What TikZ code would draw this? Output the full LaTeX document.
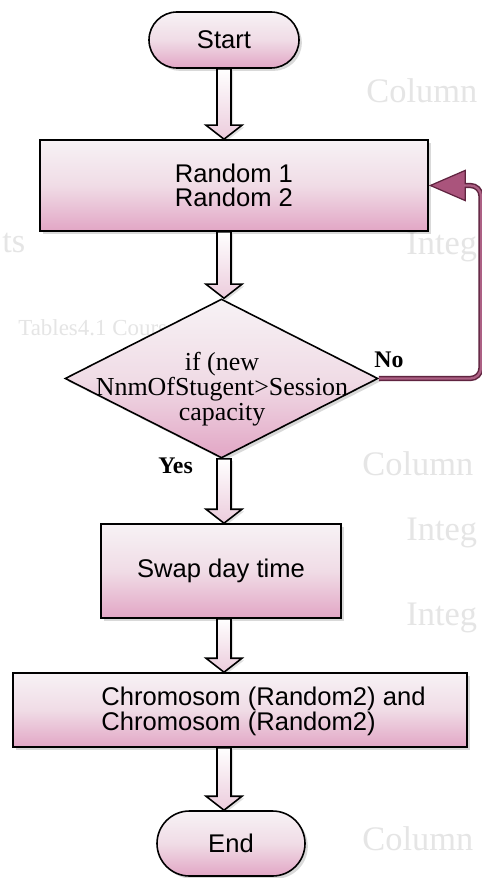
\documentclass[tikz,border=0pt]{standalone}
\usepackage{fontspec}
\setmainfont{Liberation Serif}
\newfontfamily\boxfont{Liberation Sans}
\usetikzlibrary{shapes.geometric,shapes.misc,arrows.meta,shadows,calc}
\definecolor{pinktop}{RGB}{247,242,245}
\definecolor{pinkmid}{RGB}{240,220,230}
\definecolor{pinkbot}{RGB}{226,166,197}
\definecolor{plumdark}{RGB}{96,36,64}
\definecolor{plummid}{RGB}{172,96,132}
\definecolor{plumfill}{RGB}{170,84,124}
\definecolor{ghost}{RGB}{229,229,229}
\def\pxu{0.5669pt}
\tikzset{
  flowbox/.style={draw=black, line width=0.9pt, top color=pinktop, bottom color=pinkbot, middle color=pinkmid,
    drop shadow={shadow xshift=1.6pt, shadow yshift=-1.6pt, fill=black, opacity=0.15}, inner sep=0pt},
  procbox/.style={flowbox, rectangle},
  termbox/.style={flowbox, rounded rectangle},
  decbox/.style={flowbox, diamond},
  boxtext/.style={font=\boxfont\fontsize{14.5}{14}\selectfont, align=center, inner sep=0pt},
  chromtextstyle/.style={font=\boxfont\fontsize{14.5}{14.2}\selectfont, align=left, inner sep=0pt},
  dectextstyle/.style={font=\fontsize{14.7}{11.4}\selectfont, align=center, inner sep=0pt},
  lbl/.style={font=\bfseries\fontsize{13.5}{14}\selectfont, inner sep=0pt},
  ghosttext/.style={font=\fontsize{19.5}{20}\selectfont, text=ghost, inner sep=0pt},
  hollow/.style={draw=black, line width=0.9pt, top color=white, bottom color=pinkmid!70!pinkbot,
    drop shadow={shadow xshift=1.2pt, shadow yshift=-1.2pt, fill=black, opacity=0.12}},
  nolineouter/.style={draw=plumdark, line width=3pt, rounded corners=6pt,
    -{Triangle[length=21pt,width=18pt,line width=0.7pt,fill=plumfill]}},
  nolineinner/.style={draw=plummid, line width=1.3pt, rounded corners=6pt, shorten >=20pt},
}
\newcommand\hollowarrow[2]{%
  \draw[hollow] let \p1=(#1), \p2=(#2) in
    (\x1-7*\pxu,\y1) -- (\x1+7*\pxu,\y1) -- (\x1+7*\pxu,\y2+14*\pxu) --
    (\x1+18*\pxu,\y2+14*\pxu) -- (\x1,\y2) -- (\x1-18*\pxu,\y2+14*\pxu) --
    (\x1-7*\pxu,\y2+14*\pxu) -- cycle;}
\begin{document}
\begin{tikzpicture}[x=0.5669pt, y=-0.5669pt]
\useasboundingbox (0,0) rectangle (481,878);
\fill[white] (0,0) rectangle (481,878);
% faint show-through from the page behind
\node[ghosttext, anchor=base west] (g1) at (366,103) {Column};
\node[ghosttext, anchor=base west] (g2) at (2,253) {ts};
\node[ghosttext, anchor=base west] (g3) at (406,255) {Integ};
\node[ghosttext, anchor=base west, font=\fontsize{13}{14}\selectfont] (g4) at (18,335) {Tables4.1 Courses data};
\node[ghosttext, anchor=base west] (g5) at (362,475) {Column};
\node[ghosttext, anchor=base west] (g6) at (406,540) {Integ};
\node[ghosttext, anchor=base west] (g7) at (406,625) {Integ};
\node[ghosttext, anchor=base west] (g8) at (362,850) {Column};

% flowchart shapes
\node[termbox, minimum width=150*\pxu, minimum height=56*\pxu] (start) at (224,40) {};
\node[boxtext] (starttext) at (start.center) {Start};
\node[procbox, minimum width=388*\pxu, minimum height=91*\pxu] (rand) at (234,185.5) {};
\node[boxtext] (randtext) at (rand.center) {Random 1\\Random 2};
\node[decbox, minimum width=313*\pxu, minimum height=159*\pxu] (dec) at (221.5,378.5) {};
\node[dectextstyle] (dectext) at (222,389) {if (new\\NnmOfStugent>Session\\capacity};
\node[procbox, minimum width=240*\pxu, minimum height=94*\pxu] (swap) at (221,571) {};
\node[boxtext] (swaptext) at (swap.center) {Swap day time};
\node[procbox, minimum width=454*\pxu, minimum height=74*\pxu] (chrom) at (240,710) {};
\node[chromtextstyle] (chromtext) at (263.5,711) {Chromosom (Random2) and\\Chromosom (Random2)};
\node[termbox, minimum width=148*\pxu, minimum height=65*\pxu] (end) at (231,843.5) {};
\node[boxtext] (endtext) at (end.center) {End};

% labels
\node[lbl, anchor=base west] (nolbl) at (374,368) {No};
\node[lbl, anchor=base west] (yeslbl) at (158,473) {Yes};

% hollow block arrows
\coordinate (ax) at (224,0);
\hollowarrow{ax |- start.south}{ax |- rand.north}
\hollowarrow{ax |- rand.south}{ax |- dec.north}
\hollowarrow{ax |- dec.south}{ax |- swap.north}
\hollowarrow{ax |- swap.south}{ax |- chrom.north}
\hollowarrow{ax |- chrom.south}{ax |- end.north}

% the "No" loop back to the Random box
\coordinate (rx) at (481,0);
\draw[nolineouter] (dec.east) -- (dec.east -| rx) -- (rand.east -| rx) -- (rand.east);
\draw[nolineinner] (dec.east) -- (dec.east -| rx) -- (rand.east -| rx) -- (rand.east);
\end{tikzpicture}
\end{document}
